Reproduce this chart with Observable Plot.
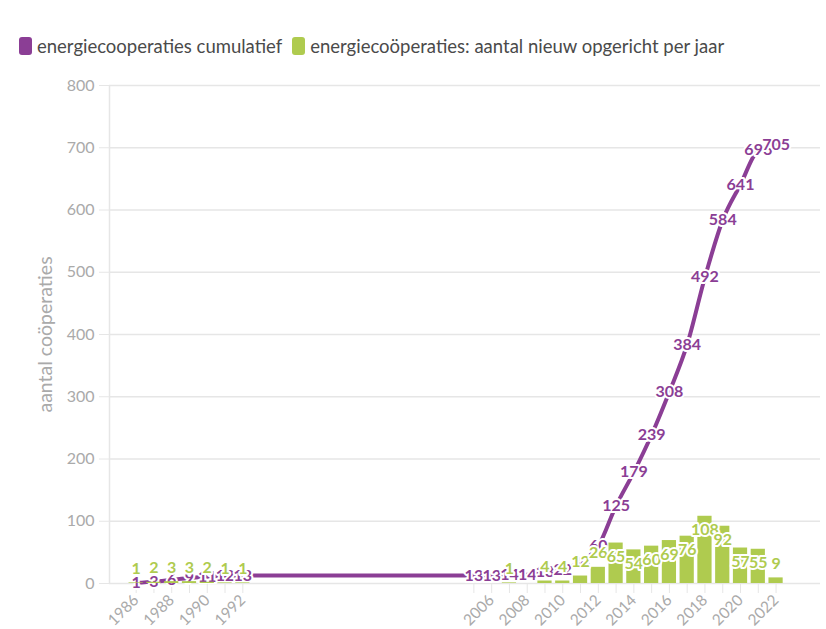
<!DOCTYPE html>
<html>
<head>
<meta charset="utf-8">
<script src="https://cdn.jsdelivr.net/npm/d3@7"></script>
<script src="https://cdn.jsdelivr.net/npm/@observablehq/plot@0.6"></script>
<style>
  html, body { margin: 0; padding: 0; background: #fff; }
  body { width: 826px; height: 629px; overflow: hidden; font-family: Lato, "Open Sans", sans-serif; }
  #legend { height: 60px; box-sizing: border-box; padding: 31px 0 0 19px; display: flex; align-items: center; font-size: 18.5px; color: #4a4a4a; }
  .item { display: flex; align-items: center; margin-right: 10px; white-space: nowrap; }
  .sw { width: 13px; height: 18px; border-radius: 3px; margin-right: 5px; display: inline-block; }
  #chart svg { display: block; overflow: visible; }
</style>
</head>
<body>
<div id="legend"></div>
<div id="chart"></div>
<script>
const seriesNames = ["energiecooperaties cumulatief", "energiecoöperaties: aantal nieuw opgericht per jaar"];
const years = [1986, 1987, 1988, 1989, 1990, 1991, 1992, 2005, 2006, 2007, 2008, 2009, 2010, 2011, 2012, 2013, 2014, 2015, 2016, 2017, 2018, 2019, 2020, 2021, 2022];
const cumulative = [1, 3, 6, 9, 11, 12, 13, 13, 13, 14, 14, 18, 22, 34, 60, 125, 179, 239, 308, 384, 492, 584, 641, 696, 705];
const perYear = [1, 2, 3, 3, 2, 1, 1, 0, 0, 1, 0, 4, 4, 12, 26, 65, 54, 60, 69, 76, 108, 92, 57, 55, 9];
const yTicks = [0, 100, 200, 300, 400, 500, 600, 700, 800];
const yLabel = "aantal coöperaties";

const purple = "#8b3e95";
const green = "#afcb4f";

const data = years.map((year, i) => ({year, cum: cumulative[i], n: perYear[i]}));

// legend
const legend = document.getElementById("legend");
[[seriesNames[0], purple], [seriesNames[1], green]].forEach(([name, c]) => {
  const it = document.createElement("div");
  it.className = "item";
  const sw = document.createElement("span");
  sw.className = "sw";
  sw.style.background = c;
  const t = document.createElement("span");
  t.textContent = name;
  it.appendChild(sw); it.appendChild(t);
  legend.appendChild(it);
});

const labelThreshold = 30;

const chart = Plot.plot({
  width: 826,
  height: 569,
  marginLeft: 109,
  marginRight: 6,
  marginTop: 25,
  marginBottom: 46,
  style: {fontFamily: "Lato, 'Open Sans', sans-serif", fontSize: "16px", background: "#fff"},
  x: {type: "linear", domain: [1984.5, 2024.5]},
  y: {domain: [0, 800]},
  marks: [
    Plot.gridY(yTicks, {stroke: "#e6e6e6", strokeOpacity: 1, strokeWidth: 1.5}),
    Plot.ruleX([1984.5], {stroke: "#e6e6e6", strokeWidth: 1.5}),
    Plot.axisY({ticks: yTicks, tickSize: 10, tickPadding: 5, stroke: "#e6e6e6", fill: "#aaa", label: null, fontSize: 16}),
    Plot.axisX({ticks: years, tickFormat: d => d % 2 === 0 ? String(d) : "", tickRotate: -45, tickSize: 10, tickPadding: 4, stroke: "#e6e6e6", fill: "#aaa", label: null, fontSize: 15.5}),
    Plot.text([yLabel], {frameAnchor: "left", textAnchor: "middle", dx: -64, rotate: -90, fill: "#aaa", fontSize: 19.5}),
    Plot.line(data, {x: "year", y: "cum", stroke: purple, strokeWidth: 4, curve: "monotone-x"}),
    Plot.text(data, {x: "year", y: "cum", text: d => String(d.cum), fill: purple, stroke: "#fff", strokeWidth: 4, fontWeight: "bold", fontSize: 16, paintOrder: "stroke"}),
    Plot.rectY(data, {x1: d => d.year - 0.4, x2: d => d.year + 0.4, y1: 0, y2: "n", fill: green}),
    Plot.text(data.filter(d => d.n > 0 && d.n < labelThreshold), {x: "year", y: "n", text: d => String(d.n), dy: -14, fill: green, stroke: "#fff", strokeWidth: 4, fontWeight: "bold", fontSize: 16, paintOrder: "stroke"}),
    Plot.text(data.filter(d => d.n >= labelThreshold), {x: "year", y: "n", text: d => String(d.n), dy: 14, fill: green, stroke: "#fff", strokeWidth: 4, fontWeight: "bold", fontSize: 16, paintOrder: "stroke"})
  ]
});
document.getElementById("chart").appendChild(chart);
</script>
</body>
</html>
